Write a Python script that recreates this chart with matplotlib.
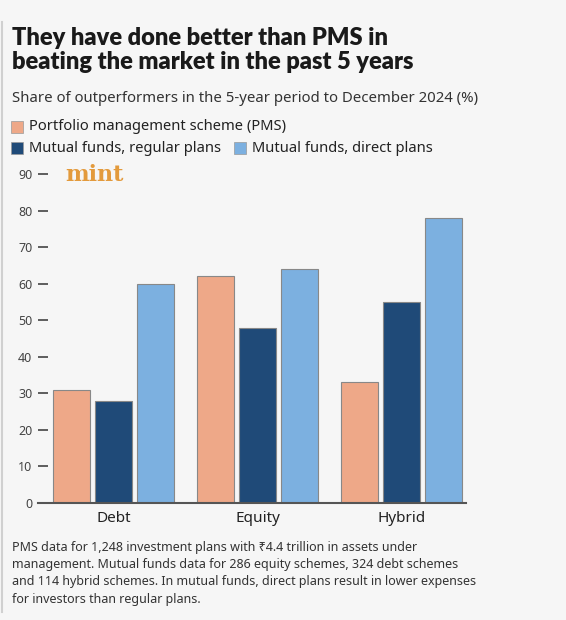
import matplotlib.pyplot as plt
import numpy as np

# data
categories = ['Debt', 'Equity', 'Hybrid']
series_names = ['Portfolio management scheme (PMS)',
                'Mutual funds, regular plans',
                'Mutual funds, direct plans']
pms = [31, 62, 33]
regular = [28, 48, 55]
direct = [60, 64, 78]
y_ticks = [0, 10, 20, 30, 40, 50, 60, 70, 80, 90]

colors = ['#eea888', '#1f4a78', '#7cb0e0']
BG = '#f6f6f6'
W, H = 566, 620

plt.rcParams['font.family'] = ['Noto Sans', 'DejaVu Sans']


def fx(px):
    return px / W


def fy(py):
    return 1 - py / H


fig = plt.figure(figsize=(W / 100, H / 100), dpi=100, facecolor=BG)

# thin frame line on the left
fig.add_artist(plt.Line2D([fx(2), fx(2)], [fy(22), fy(612)],
                          color='#d0d0d0', linewidth=1.5))

fig.text(fx(12), fy(27), 'They have done better than PMS in\nbeating the market in the past 5 years',
         fontsize=17, fontweight='heavy', family='Lato', color='#1a1a1a',
         va='top', ha='left', linespacing=1.1)
fig.text(fx(12), fy(99), 'Share of outperformers in the 5-year period to December 2024 (%)',
         fontsize=10.75, color='#333333', va='center', ha='left')

# legend, built by hand
legend_rows = [(series_names[0], 11, 127), (series_names[1], 11, 148), (series_names[2], 234, 148)]
for (name, x0, yc), c in zip(legend_rows, colors):
    fig.add_artist(plt.Rectangle((fx(x0), fy(yc + 6)), fx(12), 12 / H,
                                 facecolor=c, edgecolor='#999999', linewidth=0.5))
    fig.text(fx(x0 + 18), fy(yc), name, fontsize=10.6, color='#222222',
             va='center', ha='left')

ax = fig.add_axes([fx(38), fy(503), fx(466 - 38), (503 - 174) / H])
ax.set_facecolor(BG)

x = np.arange(len(categories))
step = 0.29
width = 0.257
for i, (vals, c) in enumerate(zip([pms, regular, direct], colors)):
    ax.bar(x + (i - 1) * step, vals, width, color=c, edgecolor='#888888',
           linewidth=0.8, zorder=2)

ax.set_xlim(-0.524, 2.448)
ax.set_ylim(0, 90)
ax.set_yticks(y_ticks)
ax.set_yticklabels([str(v) for v in y_ticks], fontsize=9, color='#444444')
ax.tick_params(axis='y', direction='in', length=7, width=1.2, color='#444444', pad=4)
ax.set_xticks(x)
ax.set_xticklabels(categories, fontsize=11, color='#222222')
ax.tick_params(axis='x', length=0, pad=6)
for s in ['top', 'right', 'left']:
    ax.spines[s].set_visible(False)
ax.spines['bottom'].set_color('#555555')
ax.spines['bottom'].set_linewidth(1.5)
ax.spines['bottom'].set_zorder(3)

# mint logo
fig.text(fx(65), fy(175), 'mint', fontsize=16, fontweight='bold', family='DejaVu Serif',
         color='#e39a3c', va='center', ha='left')

note = ('PMS data for 1,248 investment plans with \u20b94.4 trillion in assets under\n'
        'management. Mutual funds data for 286 equity schemes, 324 debt schemes\n'
        'and 114 hybrid schemes. In mutual funds, direct plans result in lower expenses\n'
        'for investors than regular plans.')
fig.text(fx(12), fy(541), note, fontsize=9, color='#333333', va='top', ha='left',
         linespacing=1.42)

plt.savefig('out.png', dpi=100, facecolor=BG)
